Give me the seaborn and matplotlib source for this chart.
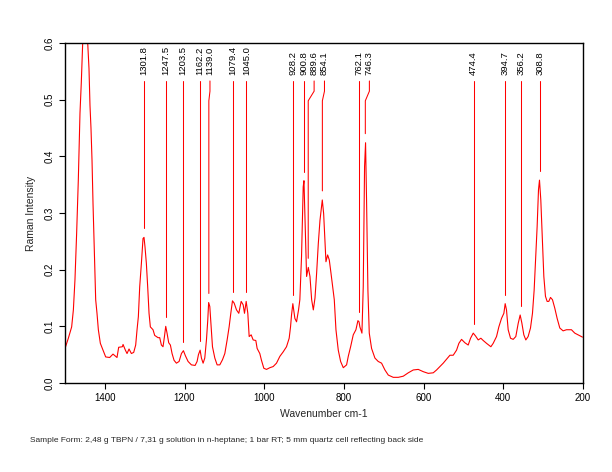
import matplotlib
matplotlib.use("Agg")
import matplotlib.pyplot as plt
import seaborn as sns
import pandas as pd
import numpy as np

# ---- spectrum data ----
wavenumber = [1500, 1491.6, 1483.3, 1479, 1475, 1470.8, 1466.6, 1462.4, 1459.1, 1455.6, 1449, 1443,
              1439.8, 1437.3, 1434.8, 1432.2, 1429.7, 1426.4, 1423, 1419.7, 1416.3, 1411.3, 1404.6,
              1397.9, 1387.9, 1379.5, 1369.5, 1365.3, 1356, 1354.3, 1348.5, 1344.3, 1339.3, 1333.4,
              1327.6, 1322.6, 1319.2, 1315.9, 1312.5, 1308.3, 1304.2, 1301.7, 1299.2, 1295.8, 1292.5,
              1289.1, 1285.8, 1279.1, 1274.9, 1266.5, 1262.3, 1258.1, 1254, 1250.6, 1247.2, 1243.9,
              1239.7, 1235.5, 1231.3, 1226.3, 1220.4, 1213.7, 1207.8, 1202.8, 1197.8, 1191.1, 1182.7,
              1173.5, 1168.5, 1165.1, 1160.9, 1157.6, 1153.4, 1149.2, 1145, 1141.7, 1139.5, 1136.6,
              1133.3, 1129.9, 1124, 1118.2, 1111.5, 1104.8, 1098.9, 1093.1, 1088.1, 1083.9, 1079.7,
              1075.5, 1069.6, 1063.8, 1057.9, 1052.9, 1049.5, 1045.3, 1041.2, 1037.8, 1032.8, 1027.8,
              1021.1, 1017.8, 1011.1, 1006.9, 1001, 994.3, 985.9, 977.6, 969.2, 960.8, 952.4, 944.1,
              937.4, 934, 931.5, 928.2, 923.1, 918.9, 913.9, 910.6, 906.4, 902.2, 900.3, 896.8,
              893.7, 889.4, 885.2, 881, 876.8, 872.6, 868.5, 864.3, 860.1, 854.3, 850.9, 847.6,
              845.1, 840.9, 836.7, 832.5, 828.4, 824.2, 820, 814.2, 808.3, 801.6, 793.3, 789.1,
              783.2, 776.6, 769.9, 764.9, 762.1, 759.9, 754.8, 751.5, 748.2, 745.7, 743.2, 739.8,
              736.4, 730.6, 722.2, 713.9, 705.5, 697.1, 688.7, 676.2, 663.6, 651.1, 638.5, 626,
              613.5, 600.9, 588.4, 575.8, 567.5, 559.1, 550.8, 542.4, 534, 525.7, 517.3, 511.5,
              504.8, 496.4, 488.1, 482.2, 475.5, 469.7, 463, 456.3, 450.4, 442.1, 431.2, 425.4,
              417, 411.2, 404.5, 398.6, 395.3, 392, 387.8, 381.9, 375.2, 368.6, 362.7, 357.7,
              353.5, 348.5, 343.5, 337.7, 331.8, 326.8, 322.6, 318.4, 315.1, 311.7, 309.2, 305.9,
              302.5, 298.3, 294.2, 290, 285.8, 281.6, 276.6, 270.8, 264.9, 258.2, 249.9, 241.5,
              229, 220.6, 212.2, 201.4]
intensity = [0.061, 0.079, 0.099, 0.129, 0.182, 0.264, 0.358, 0.476, 0.53, 0.6, 0.66, 0.6,
             0.555, 0.49, 0.45, 0.393, 0.317, 0.235, 0.147, 0.123, 0.094, 0.070, 0.058,
             0.046, 0.045, 0.051, 0.045, 0.063, 0.064, 0.068, 0.058, 0.052, 0.060, 0.052,
             0.054, 0.067, 0.094, 0.117, 0.170, 0.211, 0.255, 0.257, 0.240, 0.211, 0.170,
             0.123, 0.099, 0.094, 0.084, 0.080, 0.080, 0.067, 0.064, 0.081, 0.100, 0.088,
             0.071, 0.067, 0.052, 0.040, 0.035, 0.038, 0.052, 0.057, 0.048, 0.038, 0.032,
             0.031, 0.038, 0.050, 0.058, 0.044, 0.035, 0.044, 0.076, 0.111, 0.142, 0.135,
             0.099, 0.064, 0.044, 0.032, 0.032, 0.041, 0.052, 0.076, 0.099, 0.123, 0.145,
             0.141, 0.129, 0.123, 0.144, 0.138, 0.123, 0.144, 0.123, 0.082, 0.085, 0.076,
             0.075, 0.061, 0.052, 0.040, 0.026, 0.024, 0.027, 0.029, 0.035, 0.047, 0.055, 0.064,
             0.079, 0.099, 0.120, 0.140, 0.114, 0.108, 0.129, 0.147, 0.223, 0.346, 0.357, 0.264,
             0.188, 0.204, 0.188, 0.147, 0.129, 0.150, 0.194, 0.246, 0.287, 0.323, 0.299, 0.252,
             0.214, 0.226, 0.217, 0.194, 0.170, 0.147, 0.094, 0.058, 0.038, 0.027, 0.032, 0.047,
             0.064, 0.085, 0.094, 0.110, 0.108, 0.099, 0.088, 0.170, 0.382, 0.424, 0.323, 0.164,
             0.088, 0.061, 0.044, 0.038, 0.035, 0.023, 0.014, 0.010, 0.010, 0.012, 0.018, 0.023,
             0.024, 0.020, 0.017, 0.018, 0.023, 0.029, 0.035, 0.042, 0.049, 0.049, 0.058, 0.070,
             0.077, 0.071, 0.067, 0.079, 0.088, 0.083, 0.076, 0.079, 0.075, 0.070, 0.064, 0.070,
             0.082, 0.099, 0.114, 0.123, 0.140, 0.129, 0.094, 0.079, 0.077, 0.082, 0.105, 0.120,
             0.106, 0.085, 0.076, 0.082, 0.097, 0.123, 0.164, 0.229, 0.276, 0.341, 0.358, 0.323,
             0.264, 0.188, 0.153, 0.144, 0.144, 0.151, 0.147, 0.132, 0.114, 0.097, 0.092, 0.094,
             0.094, 0.088, 0.085, 0.081]

# ---- annotated peaks ----
peak_positions = [1301.8, 1247.5, 1203.5, 1162.2, 1139.0, 1079.4, 1045.0, 928.2, 900.8, 889.6,
                  854.1, 762.1, 746.3, 474.4, 394.7, 356.2, 308.8]
peak_labels = ["1301.8", "1247.5", "1203.5", "1162.2", "1139.0", "1079.4", "1045.0", "928.2",
               "900.8", "889.6", "854.1", "762.1", "746.3", "474.4", "394.7", "356.2", "308.8"]
peak_heights = [0.257, 0.100, 0.057, 0.058, 0.142, 0.145, 0.144, 0.140, 0.357, 0.204,
                0.323, 0.110, 0.424, 0.088, 0.140, 0.120, 0.358]

sns.set_theme(style="ticks")
plt.rcParams["font.family"] = ["Liberation Sans", "DejaVu Sans"]

fig = plt.figure(figsize=(6.12, 4.72), dpi=100)
ax = fig.add_axes([65 / 612, 1 - 383 / 472, 518 / 612, 340 / 472])

df = pd.DataFrame({"Wavenumber": wavenumber, "Intensity": intensity})
sns.lineplot(data=df, x="Wavenumber", y="Intensity", ax=ax, color="red", linewidth=0.8,
             sort=False, estimator=None)

# spread label positions so they don't overlap
min_gap = 26.0
label_pos = []
prev = None
for p in peak_positions:
    lp = p if prev is None else min(p, prev - min_gap)
    label_pos.append(lp)
    prev = lp

top_y = 0.533
for p, lp, h, lab in zip(peak_positions, label_pos, peak_heights, peak_labels):
    bottom = h + 0.016
    if abs(lp - p) > 0.5:
        xs = [lp, lp, p, p]
        ys = [top_y, 0.515, 0.498, bottom]
    else:
        xs = [p, p]
        ys = [top_y, bottom]
    ax.plot(xs, ys, color="red", linewidth=0.75, clip_on=False)
    ax.text(lp, 0.543, lab, rotation=90, ha="center", va="bottom", fontsize=6.8, color="black")

ax.set_xlim(1500, 200)
ax.set_ylim(0, 0.6)
ax.set_xticks([1400, 1200, 1000, 800, 600, 400, 200])
ax.set_yticks([0.0, 0.1, 0.2, 0.3, 0.4, 0.5, 0.6])
ax.set_yticklabels(["0.0", "0.1", "0.2", "0.3", "0.4", "0.5", "0.6"], rotation=90, va="center")
ax.tick_params(axis="both", labelsize=7, length=4, width=0.8, colors="black", direction="out")
ax.set_xlabel("Wavenumber cm-1", fontsize=7.5, labelpad=4)
ax.set_ylabel("Raman Intensity", fontsize=7.5, labelpad=6)
for s in ax.spines.values():
    s.set_color("black")
    s.set_linewidth(1.0)
ax.set_facecolor("white")
fig.patch.set_facecolor("white")

fig.text(30 / 612, 1 - 441 / 472,
         "Sample Form: 2,48 g TBPN / 7,31 g solution in n-heptane; 1 bar RT; 5 mm quartz cell reflecting back side",
         fontsize=6.0, ha="left", va="center")

fig.savefig("out.png", dpi=100)
